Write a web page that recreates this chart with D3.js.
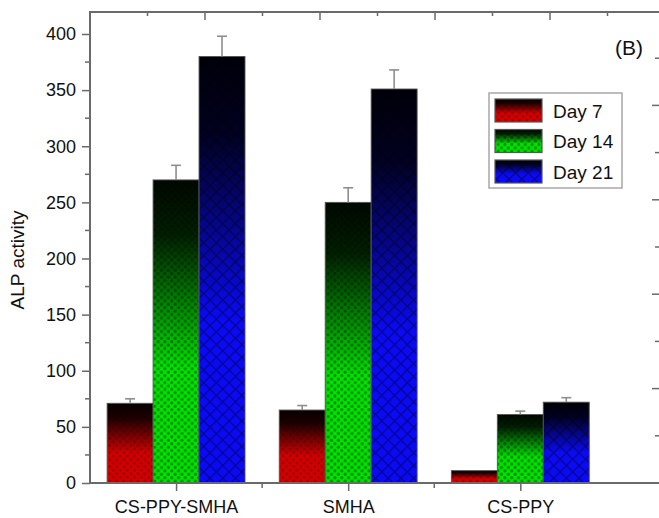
<!DOCTYPE html>
<html><head><meta charset="utf-8">
<script src="https://cdn.jsdelivr.net/npm/d3@7"></script>
<style>body{margin:0;background:#fff}svg{display:block}text{font-family:"Liberation Sans",Arial,sans-serif}</style>
</head><body>
<script>
const categories = ["CS-PPY-SMHA", "SMHA", "CS-PPY"];
const seriesNames = ["Day 7", "Day 14", "Day 21"];
const day7 = [71, 65, 11];
const day7Err = [4, 4, 0];
const day14 = [270, 250, 61];
const day14Err = [13, 13, 3];
const day21 = [380, 351, 72];
const day21Err = [18, 17, 4];
const yTicks = [0, 50, 100, 150, 200, 250, 300, 350, 400];

const values = [day7, day14, day21];
const errs = [day7Err, day14Err, day21Err];
const colors = ["#d00000", "#00e400", "#0a0af5"];

const W = 659, H = 518;
const svg = d3.select("body").append("svg").attr("width", W).attr("height", H);
const defs = svg.append("defs");

const x = d3.scaleLinear().domain([0.5, 3.8]).range([90, 658]);
const y = d3.scaleLinear().domain([0, 400]).range([483, 34]);
const barW = x(1.267) - x(1);

colors.forEach((c, i) => {
  const g = defs.append("linearGradient").attr("id", "grad" + i)
    .attr("x1", 0).attr("y1", 0).attr("x2", 0).attr("y2", 1);
  g.append("stop").attr("offset", 0).attr("stop-color", d3.interpolateRgb("#000", c)(0.04));
  g.append("stop").attr("offset", 0.18).attr("stop-color", d3.interpolateRgb("#000", c)(0.14));
  g.append("stop").attr("offset", 0.62).attr("stop-color", c);
  g.append("stop").attr("offset", 1).attr("stop-color", c);
});
const p0 = defs.append("pattern").attr("id", "pat0").attr("patternUnits", "userSpaceOnUse")
  .attr("width", 5).attr("height", 5).attr("patternTransform", "rotate(45)");
p0.append("circle").attr("cx", 2.5).attr("cy", 2.5).attr("r", 1.3).attr("fill", "rgba(0,0,0,0.3)");
const p1 = defs.append("pattern").attr("id", "pat1").attr("patternUnits", "userSpaceOnUse")
  .attr("width", 6.8).attr("height", 6.8);
p1.append("circle").attr("cx", 1.7).attr("cy", 1.7).attr("r", 1.6).attr("fill", "rgba(0,0,0,0.38)");
p1.append("circle").attr("cx", 5.1).attr("cy", 5.1).attr("r", 1.6).attr("fill", "rgba(0,0,0,0.38)");
const p2 = defs.append("pattern").attr("id", "pat2").attr("patternUnits", "userSpaceOnUse")
  .attr("width", 9).attr("height", 9).attr("patternTransform", "rotate(45)");
p2.append("path").attr("d", "M0,0H9M0,0V9").attr("stroke", "rgba(0,0,0,0.42)").attr("stroke-width", 2.6);

const axisColor = "#6a6a6a";
svg.append("line").attr("x1", 90).attr("x2", 659).attr("y1", 12).attr("y2", 12)
  .attr("stroke", axisColor).attr("stroke-width", 2);
for (let k = 1; k <= 9; k++) {
  const tx = 90 + k * 57.5;
  svg.append("line").attr("x1", tx).attr("x2", tx).attr("y1", 12).attr("y2", k % 2 ? 16 : 20)
    .attr("stroke", axisColor).attr("stroke-width", 1.5);
}
for (let k = 1; k <= 9; k++) {
  const ty = 483 - k * 47.2;
  svg.append("line").attr("x1", k % 2 ? 655 : 652).attr("x2", 659).attr("y1", ty).attr("y2", ty)
    .attr("stroke", axisColor).attr("stroke-width", 1.5);
}

const yAxis = d3.axisLeft(y).tickValues(yTicks).tickSize(8).tickPadding(6);
const gy = svg.append("g").attr("transform", "translate(90,0)").call(yAxis);
gy.select(".domain").remove();
gy.selectAll(".tick line").attr("stroke", axisColor).attr("stroke-width", 1.5);
gy.selectAll(".tick text").attr("font-size", 18).attr("fill", "#111")
  .attr("font-family", "Liberation Sans, Arial, sans-serif");
const minorY = d3.range(25, 420, 50);
svg.append("g").selectAll("line").data(minorY).join("line")
  .attr("x1", 85).attr("x2", 90).attr("y1", d => y(d)).attr("y2", d => y(d))
  .attr("stroke", axisColor).attr("stroke-width", 1.5);
svg.append("line").attr("x1", 90).attr("x2", 90).attr("y1", 11).attr("y2", 484)
  .attr("stroke", axisColor).attr("stroke-width", 2);

const catIdx = categories.map((c, i) => i + 1);
values.forEach((vals, s) => {
  const g = svg.append("g");
  const bx = i => x(catIdx[i]) + (s - 1) * barW - barW / 2;
  g.selectAll("rect.base").data(vals).join("rect").attr("class", "base")
    .attr("x", (d, i) => bx(i)).attr("width", barW)
    .attr("y", d => y(d)).attr("height", d => y(0) - y(d))
    .attr("fill", `url(#grad${s})`);
  g.selectAll("rect.tex").data(vals).join("rect").attr("class", "tex")
    .attr("x", (d, i) => bx(i)).attr("width", barW)
    .attr("y", d => y(d)).attr("height", d => y(0) - y(d))
    .attr("fill", `url(#pat${s})`).attr("stroke", "#555").attr("stroke-width", 0.9);
  const eg = svg.append("g");
  vals.forEach((v, i) => {
    const e = errs[s][i];
    if (!e) return;
    const cx = bx(i) + barW / 2;
    eg.append("line").attr("x1", cx).attr("x2", cx).attr("y1", y(v)).attr("y2", y(v + e))
      .attr("stroke", "#8e8e8e").attr("stroke-width", 1.6);
    eg.append("line").attr("x1", cx - 5).attr("x2", cx + 5).attr("y1", y(v + e)).attr("y2", y(v + e))
      .attr("stroke", "#8e8e8e").attr("stroke-width", 1.6);
  });
});

svg.append("line").attr("x1", 89).attr("x2", 659).attr("y1", 483).attr("y2", 483)
  .attr("stroke", axisColor).attr("stroke-width", 2);
const xAxis = d3.axisBottom(x).tickValues(catIdx).tickSize(8).tickPadding(9)
  .tickFormat(d => categories[d - 1]);
const gx = svg.append("g").attr("transform", "translate(0,483)").call(xAxis);
gx.select(".domain").remove();
gx.selectAll(".tick line").attr("stroke", axisColor).attr("stroke-width", 1.5);
gx.selectAll(".tick text").attr("font-size", 18).attr("fill", "#111")
  .attr("font-family", "Liberation Sans, Arial, sans-serif");
svg.append("g").selectAll("line").data([1.5, 2.5]).join("line")
  .attr("x1", d => x(d)).attr("x2", d => x(d)).attr("y1", 483).attr("y2", 488)
  .attr("stroke", axisColor).attr("stroke-width", 1.5);

svg.append("text").attr("transform", "translate(24,260) rotate(-90)")
  .attr("text-anchor", "middle")
  .attr("font-size", 19).attr("fill", "#111").text("ALP activity");

svg.append("text").attr("x", 643).attr("y", 55).attr("text-anchor", "end")
  .attr("font-size", 21).attr("fill", "#111").text("(B)");

const lg = svg.append("g");
lg.append("rect").attr("x", 489).attr("y", 93).attr("width", 133).attr("height", 95)
  .attr("fill", "#fff").attr("stroke", "#a8a8a8").attr("stroke-width", 1.5);
seriesNames.forEach((n, s) => {
  const yy = 99 + s * 30.5;
  lg.append("rect").attr("x", 495).attr("y", yy).attr("width", 47).attr("height", 23)
    .attr("fill", `url(#grad${s})`);
  lg.append("rect").attr("x", 495).attr("y", yy).attr("width", 47).attr("height", 23)
    .attr("fill", `url(#pat${s})`).attr("stroke", "#555").attr("stroke-width", 1.2);
  lg.append("text").attr("x", 553).attr("y", yy + 18.5).attr("font-size", 19)
    .attr("fill", "#111").text(n);
});
</script>
</body></html>
